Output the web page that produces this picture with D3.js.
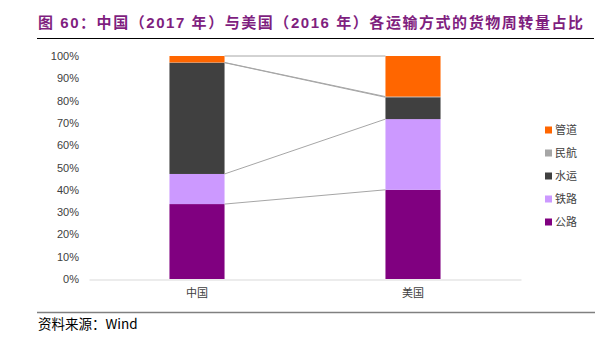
<!DOCTYPE html>
<html>
<head>
<meta charset="utf-8">
<script src="https://cdn.jsdelivr.net/npm/d3@7"></script>
<style>
  html, body { margin: 0; padding: 0; background: #fff; }
  svg { display: block; }
</style>
</head>
<body>
<svg id="chart" width="604" height="354"></svg>
<script>
// ---- data ----
const categories = ["中国", "美国"];
const seriesNames = ["公路", "铁路", "水运", "民航", "管道"];
const road     = [33.6, 40.0];
const rail     = [13.5, 31.7];
const water    = [49.9, 9.8];
const air      = [0.1, 0.3];
const pipeline = [2.9, 18.2];
const yTicks = [0, 10, 20, 30, 40, 50, 60, 70, 80, 90, 100];
const legendOrder = ["管道", "民航", "水运", "铁路", "公路"];
const titleText = "图 60：中国（2017 年）与美国（2016 年）各运输方式的货物周转量占比";
const sourceText = "资料来源：Wind";

const colors = { "公路": "#800080", "铁路": "#CC99FF", "水运": "#404040", "民航": "#A6A6A6", "管道": "#FF6600" };
const seriesValues = { "公路": road, "铁路": rail, "水运": water, "民航": air, "管道": pipeline };

const rows = categories.map((c, i) => {
  const r = { cat: c };
  seriesNames.forEach(s => r[s] = seriesValues[s][i]);
  return r;
});
const stacked = d3.stack().keys(seriesNames)(rows);

const svg = d3.select("#chart");
const latin = "'Liberation Sans', Arial, 'Noto Sans CJK SC', sans-serif";
const cjk = "'Noto Sans CJK SC', 'Liberation Sans', sans-serif";

// ---- title ----
const title = svg.append("text")
  .attr("x", 38).attr("y", 28)
  .attr("font-family", latin)
  .attr("font-weight", "bold")
  .attr("font-size", 15)
  .attr("fill", "#7F1F7F")
  .text(titleText);
const tw = title.node().getComputedTextLength();
const nChars = titleText.length;
title.attr("letter-spacing", Math.max(0, (545 - tw) / (nChars - 1)));

svg.append("line").attr("x1", 37).attr("x2", 594).attr("y1", 38.5).attr("y2", 38.5)
  .attr("stroke", "#000").attr("stroke-width", 1.2);

// ---- scales ----
const x = d3.scaleBand().domain(categories).range([89, 521]).paddingInner(0.745).paddingOuter(0.3725);
const y = d3.scaleLinear().domain([0, 100]).range([279, 56]);

// y axis labels
const yAxis = d3.axisLeft(y).tickValues(yTicks).tickFormat(d => d + "%").tickSize(0).tickPadding(0);
const yg = svg.append("g").attr("transform", "translate(79,0)").call(yAxis);
yg.select(".domain").remove();
yg.selectAll("text").attr("font-family", latin).attr("font-size", 11).attr("fill", "#404040");

// bars
svg.append("g").selectAll("g").data(stacked).join("g")
  .attr("fill", d => colors[d.key])
  .selectAll("rect").data(d => d).join("rect")
  .attr("x", d => x(d.data.cat))
  .attr("width", x.bandwidth())
  .attr("y", d => y(d[1]))
  .attr("height", d => y(d[0]) - y(d[1]));

// series connector lines
const b = x.bandwidth();
svg.append("g").selectAll("line").data(stacked).join("line")
  .attr("x1", x(categories[0]) + b)
  .attr("x2", x(categories[1]))
  .attr("y1", d => y(d[0][1]))
  .attr("y2", d => y(d[1][1]))
  .attr("stroke", "#A6A6A6")
  .attr("stroke-width", 1);

// x axis
const xAxis = d3.axisBottom(x).tickSize(0).tickPadding(10);
const xg = svg.append("g").attr("transform", "translate(0,279.5)").call(xAxis);
xg.select(".domain").attr("stroke", "#D9D9D9").attr("stroke-width", 1);
xg.selectAll("text").attr("font-family", cjk).attr("font-size", 11).attr("fill", "#404040");

// legend
const lg = svg.append("g").selectAll("g").data(legendOrder).join("g")
  .attr("transform", (d, i) => `translate(545, ${130 + i * 23})`);
lg.append("rect").attr("x", 0).attr("y", -3.5).attr("width", 7).attr("height", 7)
  .attr("fill", d => colors[d]);
lg.append("text").attr("x", 10).attr("y", 0).attr("dy", "0.36em")
  .attr("font-family", cjk).attr("font-size", 11).attr("fill", "#404040")
  .text(d => d);

// source
svg.append("line").attr("x1", 37).attr("x2", 595).attr("y1", 312.5).attr("y2", 312.5)
  .attr("stroke", "#808080").attr("stroke-width", 1.5);
svg.append("text").attr("x", 38).attr("y", 329)
  .attr("font-family", cjk).attr("font-size", 13.5).attr("fill", "#000")
  .text(sourceText);
</script>
</body>
</html>
